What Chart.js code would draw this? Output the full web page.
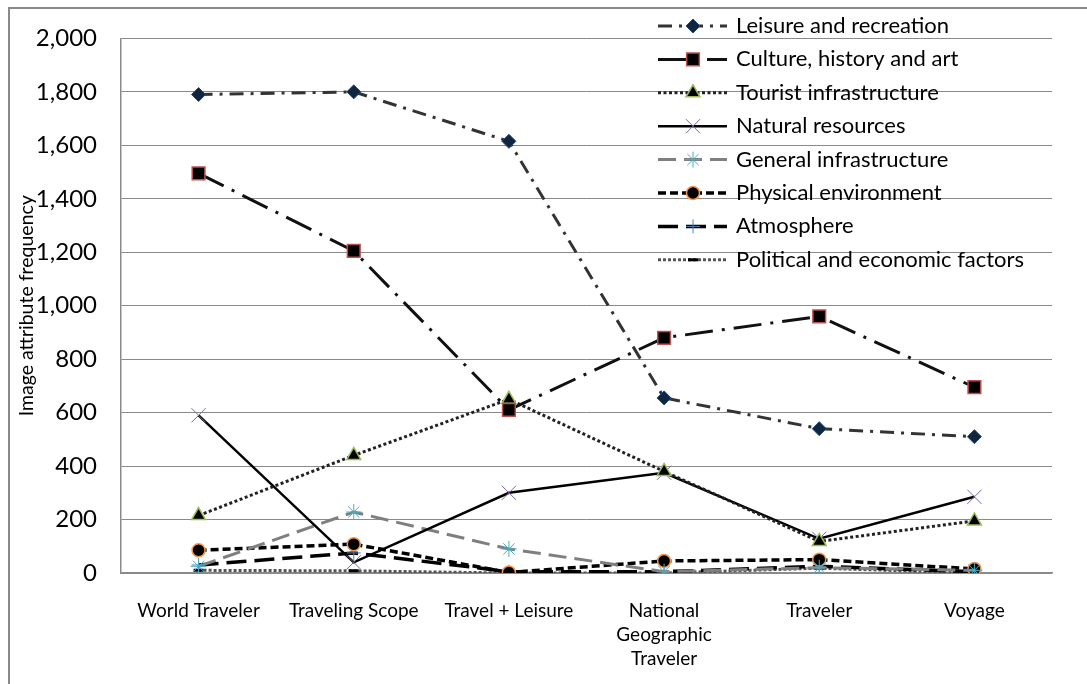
<!DOCTYPE html>
<html lang="en">
<head>
    <meta charset="UTF-8">
    <title>Image attribute frequency by magazine</title>
    <script src="https://cdn.jsdelivr.net/npm/chart.js"></script>
    <style>
        html, body { margin: 0; padding: 0; background: #fff; }
        canvas { display: block; }
    </style>
</head>
<body>
    <canvas id="grafico" width="1087" height="684"></canvas>

    <script>
        // magazines on the x axis
        const categories = ['World Traveler', 'Traveling Scope', 'Travel + Leisure', ['National', 'Geographic', 'Traveler'], 'Traveler', 'Voyage'];

        // attribute counts per magazine
        const leisure = [1790, 1800, 1615, 655, 540, 510];
        const culture = [1495, 1205, 610, 880, 960, 695];
        const tourist = [215, 440, 650, 380, 118, 195];
        const natural = [590, 40, 300, 375, 128, 285];
        const generalInfra = [25, 228, 90, 5, 20, 10];
        const physical = [85, 108, 2, 45, 50, 15];
        const atmosphere = [30, 75, 5, 5, 25, 5];
        const political = [10, 8, 0, 0, 18, 0];

        const yTicks = [0, 200, 400, 600, 800, 1000, 1200, 1400, 1600, 1800, 2000];

        const fuente = 'Lato, "Open Sans", sans-serif';
        const gris = '#8a8a8a';

        function serie(label, data, line, marker) {
            return {
                label: label,
                data: data,
                borderColor: line.color,
                borderWidth: line.width,
                borderDash: line.dash,
                tension: 0,
                fill: false,
                pointStyle: marker.style,
                pointRadius: marker.radius,
                pointHoverRadius: marker.radius,
                pointBackgroundColor: marker.fill,
                pointBorderColor: marker.stroke,
                pointBorderWidth: marker.width
            };
        }

        const datasets = [
            serie('Leisure and recreation', leisure,
                { color: '#333', width: 3, dash: [14, 7, 3, 7] },
                { style: 'rectRot', radius: 7, fill: '#10253f', stroke: '#1f497d', width: 1 }),
            serie('Culture, history and art', culture,
                { color: '#111', width: 3, dash: [28, 9, 3, 9] },
                { style: 'rect', radius: 9, fill: '#000', stroke: '#c0504d', width: 1.5 }),
            serie('Tourist infrastructure', tourist,
                { color: '#222', width: 3, dash: [3, 2.5] },
                { style: 'triangle', radius: 8, fill: '#000', stroke: '#9bbb59', width: 1.5 }),
            serie('Natural resources', natural,
                { color: '#000', width: 2.5, dash: [] },
                { style: 'crossRot', radius: 10, fill: '#8064a2', stroke: '#8064a2', width: 1 }),
            serie('General infrastructure', generalInfra,
                { color: '#7f7f7f', width: 3, dash: [18, 8] },
                { style: 'star', radius: 8, fill: '#4bacc6', stroke: '#4bacc6', width: 1 }),
            serie('Physical environment', physical,
                { color: '#000', width: 3.5, dash: [8, 4] },
                { style: 'circle', radius: 6.5, fill: '#000', stroke: '#f79646', width: 1.5 }),
            serie('Atmosphere', atmosphere,
                { color: '#000', width: 3.5, dash: [20, 8] },
                { style: 'cross', radius: 7, fill: '#4f81bd', stroke: '#4f81bd', width: 1 }),
            serie('Political and economic factors', political,
                { color: '#555', width: 3, dash: [3, 2] },
                { style: 'line', radius: 5, fill: '#000', stroke: '#000', width: 3 })
        ];

        // white page with the grey frame round the chart
        const marco = {
            id: 'marco',
            beforeDraw(chart) {
                const ctx = chart.ctx;
                ctx.save();
                ctx.fillStyle = '#fff';
                ctx.fillRect(0, 0, chart.width, chart.height);
                ctx.strokeStyle = gris;
                ctx.lineWidth = 2;
                ctx.strokeRect(9, 8, chart.width + 20, chart.height + 20);
                ctx.restore();
            }
        };

        // y title drawn over the tick labels, and the legend on top of the plot
        const leyenda = {
            id: 'leyenda',
            afterDraw(chart) {
                const ctx = chart.ctx;
                const area = chart.chartArea;
                ctx.save();
                ctx.translate(27, (area.top + area.bottom) / 2);
                ctx.rotate(-Math.PI / 2);
                ctx.font = '19.5px ' + fuente;
                ctx.fillStyle = '#000';
                ctx.textAlign = 'center';
                ctx.textBaseline = 'middle';
                ctx.fillText('Image attribute frequency', 0, 0);
                ctx.restore();

                chart.data.datasets.forEach((ds, i) => {
                    const y = 26 + i * 33.4;
                    ctx.save();
                    ctx.strokeStyle = ds.borderColor;
                    ctx.lineWidth = ds.borderWidth;
                    ctx.setLineDash(ds.borderDash);
                    ctx.beginPath();
                    ctx.moveTo(658, y);
                    ctx.lineTo(727, y);
                    ctx.stroke();
                    ctx.setLineDash([]);
                    ctx.fillStyle = ds.pointBackgroundColor;
                    ctx.strokeStyle = ds.pointBorderColor;
                    ctx.lineWidth = ds.pointBorderWidth;
                    Chart.helpers.drawPoint(ctx, {
                        pointStyle: ds.pointStyle,
                        radius: ds.pointRadius,
                        borderWidth: ds.pointBorderWidth,
                        rotation: 0
                    }, 693, y);
                    ctx.font = '22px ' + fuente;
                    ctx.fillStyle = '#000';
                    ctx.textAlign = 'left';
                    ctx.textBaseline = 'middle';
                    ctx.fillText(ds.label, 736, y);
                    ctx.restore();
                });
            }
        };

        new Chart(document.getElementById('grafico'), {
            type: 'line',
            data: { labels: categories, datasets: datasets },
            plugins: [marco, leyenda],
            options: {
                responsive: false,
                animation: false,
                layout: { padding: { top: 38, right: 35, left: 0, bottom: 0 } },
                plugins: {
                    legend: { display: false },
                    tooltip: { enabled: false }
                },
                scales: {
                    x: {
                        offset: true,
                        grid: { drawOnChartArea: false, drawTicks: false, offset: true },
                        border: { color: gris, width: 1.5 },
                        ticks: {
                            color: '#000',
                            padding: 26,
                            maxRotation: 0,
                            autoSkip: false,
                            font: { family: fuente, size: 19, lineHeight: '24px' }
                        },
                        afterFit(scale) { scale.height = 111; }
                    },
                    y: {
                        min: 0,
                        max: 2000,
                        afterBuildTicks(scale) {
                            scale.ticks = yTicks.map(v => ({ value: v }));
                        },
                        grid: { color: gris, lineWidth: 1, drawTicks: false },
                        border: { color: gris, width: 1.5 },
                        ticks: {
                            color: '#000',
                            padding: 24,
                            font: { family: fuente, size: 24 },
                            callback: v => v.toLocaleString('en-US')
                        },
                        afterFit(scale) { scale.width = 121; }
                    }
                }
            }
        });
    </script>
</body>
</html>
